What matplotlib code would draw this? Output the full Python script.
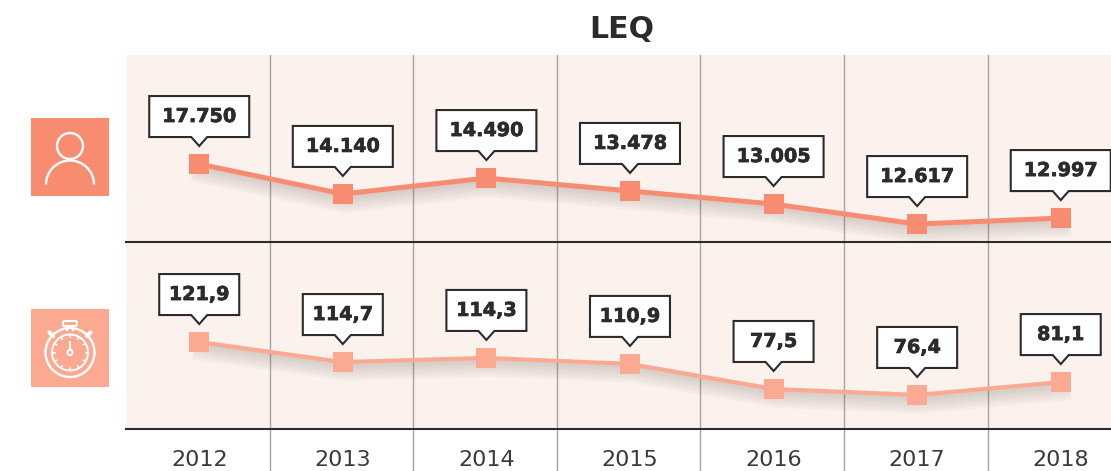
import matplotlib
matplotlib.use('Agg')
import matplotlib.pyplot as plt
import matplotlib.patheffects as pe
from matplotlib.patches import Polygon, Rectangle, Circle, Arc, FancyBboxPatch
from matplotlib.transforms import Affine2D
import numpy as np

years = [2012, 2013, 2014, 2015, 2016, 2017, 2018]
users = [17750, 14140, 14490, 13478, 13005, 12617, 12997]
times = [121.9, 114.7, 114.3, 110.9, 77.5, 76.4, 81.1]
# the graphic is not drawn to scale, so the heights are read separately (0-100 of each band)
users_height = [41.7, 25.7, 34.2, 27.3, 20.3, 9.6, 12.8]
times_height = [46.5, 35.8, 38.0, 34.8, 21.4, 18.2, 25.1]

W, H = 1111, 471
CORAL = '#F78C70'
PEACH = '#FBAA91'
BAND = '#FBF2ED'
DARK = '#2B2B2B'
GREY = '#A8A4A2'
plt.rcParams['font.family'] = ['DejaVu Sans']

fig = plt.figure(figsize=(W / 100, H / 100), dpi=100)


def box(x0, y0, x1, y1):
    return [x0 / W, 1 - y1 / H, (x1 - x0) / W, (y1 - y0) / H]


ax1 = fig.add_axes(box(126, 55, 1111, 242))
ax2 = fig.add_axes(box(126, 242, 1111, 429))
ax1.set_zorder(2)
ax2.set_zorder(1)


def callout(ax, x, y, text, width):
    # box with a small tip, sized in pixels and hung above the marker
    px, py = ax.transData.transform((x, y))
    hw = width / 2
    pts = [(-hw, 27), (-8, 27), (0, 18), (8, 27), (hw, 27), (hw, 68), (-hw, 68)]
    ax.add_patch(Polygon(pts, closed=True, facecolor='white', edgecolor=DARK, linewidth=1.5,
                         joinstyle='miter', transform=Affine2D().translate(px, py),
                         zorder=5, clip_on=False))
    ax.text(0, 47.5, text, ha='center', va='center', fontsize=13.8, fontweight='bold', color=DARK,
            transform=Affine2D().translate(px, py), zorder=6, clip_on=False,
            path_effects=[pe.withStroke(linewidth=0.5, foreground=DARK)])


def draw_band(ax, heights, labels, color, lw, width):
    ax.set_facecolor(BAND)
    ax.set_xlim(2011.49, 2018.35)
    ax.set_ylim(0, 100)
    for s in ['top', 'left', 'right']:
        ax.spines[s].set_visible(False)
    ax.spines['bottom'].set_color(DARK)
    ax.spines['bottom'].set_linewidth(1.5)
    ax.set_yticks([])
    for x in years[:-1]:
        ax.axvline(x + 0.49, color=GREY, lw=1, zorder=1)
    # soft shadow under the line
    shadow = [pe.SimpleLineShadow(offset=(1.5, -1.5 - k), shadow_color='#6b5a55', alpha=0.035,
                                  linewidth=lw + 1.5 * k) for k in range(6, -1, -1)]
    ax.plot(years, heights, color=color, lw=lw, zorder=3, solid_joinstyle='miter',
            path_effects=shadow + [pe.Normal()])
    ax.plot(years, heights, ls='none', marker='s', ms=14.4, mew=0, color=color, zorder=4)
    for x, y, t in zip(years, heights, labels):
        callout(ax, x, y, t, width)


users_labels = [f'{v:,}'.replace(',', '.') for v in users]
times_labels = [f'{v:.1f}'.replace('.', ',') for v in times]
draw_band(ax1, users_height, users_labels, CORAL, 3.6, 100)
draw_band(ax2, times_height, times_labels, PEACH, 3.0, 80)

ax1.set_xticks([])
ax2.set_xticks([y + 0.49 for y in years[:-1]])
ax2.set_xticklabels([])
ax2.tick_params(axis='x', which='major', length=31, width=1, color=GREY)
ax2.set_xticks(years, minor=True)
ax2.set_xticklabels(years, minor=True, fontsize=16, color='#3a3a3a')
ax2.tick_params(axis='x', which='minor', length=0, pad=15)

fig.text(622 / W, 1 - 29 / H, 'LEQ', ha='center', va='center', fontsize=21.5, fontweight='bold',
         color=DARK)

# icons on an overlay in pixel units
ov = fig.add_axes([0, 0, 1, 1])
ov.set_xlim(0, W)
ov.set_ylim(H, 0)
ov.axis('off')
ov.patch.set_alpha(0)
ov.set_zorder(3)
ov.add_patch(Rectangle((31, 118), 78, 78, facecolor=CORAL, edgecolor='none'))
ov.add_patch(Rectangle((31, 309), 78, 78, facecolor=PEACH, edgecolor='none'))

ov.add_patch(Circle((70, 146), 13, fill=False, edgecolor='white', lw=1.7))
ov.add_patch(Arc((70, 184.5), 48, 48, theta1=180, theta2=360, edgecolor='white', lw=1.7))

cx, cy = 70, 352.5
ov.add_patch(Circle((cx, cy), 24.5, fill=False, edgecolor='white', lw=1.7))
for a in np.arange(0, 360, 30):
    ca, sa = np.cos(np.radians(a)), np.sin(np.radians(a))
    ov.plot([cx + 15.5 * ca, cx + 18 * ca], [cy + 15.5 * sa, cy + 18 * sa], color='white', lw=1.2)
ov.add_patch(Arc((cx, cy), 36, 36, edgecolor='white', lw=1.4))
ov.add_patch(FancyBboxPatch((63, 321), 14, 5, boxstyle='round,pad=0,rounding_size=1.5',
                            fill=False, edgecolor='white', lw=1.5))
ov.plot([67, 67], [326, 330], color='white', lw=1.5)
ov.plot([73, 73], [326, 330], color='white', lw=1.5)
ov.plot([49.5, 53], [332.5, 336], color='white', lw=3, solid_capstyle='round')
ov.plot([90.5, 87], [332.5, 336], color='white', lw=3, solid_capstyle='round')
ov.plot([cx, cx], [cy - 2.5, 342], color='white', lw=1.5)
ov.add_patch(Circle((cx, cy), 2.6, fill=False, edgecolor='white', lw=1.4))

fig.savefig('out.png', dpi=100)
